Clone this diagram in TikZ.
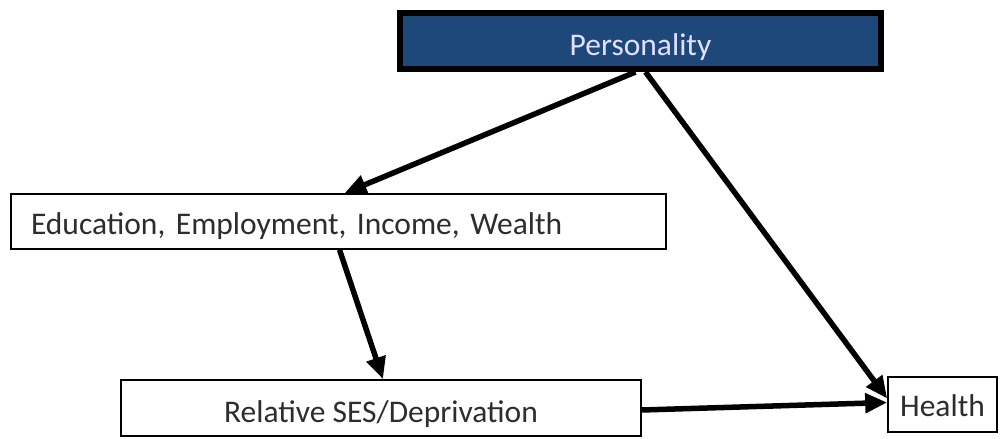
\documentclass[tikz,border=0pt]{standalone}
\usepackage{fontspec}
\setmainfont{Carlito}
\usetikzlibrary{arrows.meta}
\definecolor{persblue}{RGB}{31,72,122}
\definecolor{boxtext}{RGB}{45,45,45}
\tikzset{
  box/.style={draw, line width=1.6pt, fill=white, text=boxtext, inner sep=0pt,
    font=\fontsize{31.5}{36}\selectfont},
  link/.style={-{Triangle[length=22pt,width=19pt]}, line width=5.5pt},
}

\begin{document}
\begin{tikzpicture}[x=1pt, y=-1pt]
  \useasboundingbox (0,0) rectangle (1005,439);

  \node[box, line width=6pt, fill=persblue, text=white!88!blue, text height=32pt, text depth=2pt,
    minimum width=481pt, minimum height=56pt] (pers) at (640.5,41) {Personality};
  \node[box, text width=615pt, inner xsep=20pt, align=left, text height=30pt, text depth=5pt,
    minimum height=55pt] (edu) at (338.5,221.5) {Education, Employment, Income, Wealth};
  \node[box, text height=31pt, text depth=3pt,
    minimum width=520pt, minimum height=56pt] (ses) at (381,408) {Relative SES/Deprivation};
  \node[box, text height=29pt, text depth=6pt,
    minimum width=109pt, minimum height=55pt] (health) at (942.5,404.5) {Health};

  \draw[link] ([xshift=-5pt]pers.south) -- ([xshift=6pt]edu.north);
  \draw[link] ([xshift=5pt]pers.south) -- ([yshift=6pt]health.west);
  \draw[link] ([xshift=1pt]edu.south) -- ([xshift=2pt]ses.north);
  \draw[link] ([yshift=-2pt]ses.east) -- ([yshift=2pt]health.west);
\end{tikzpicture}
\end{document}
